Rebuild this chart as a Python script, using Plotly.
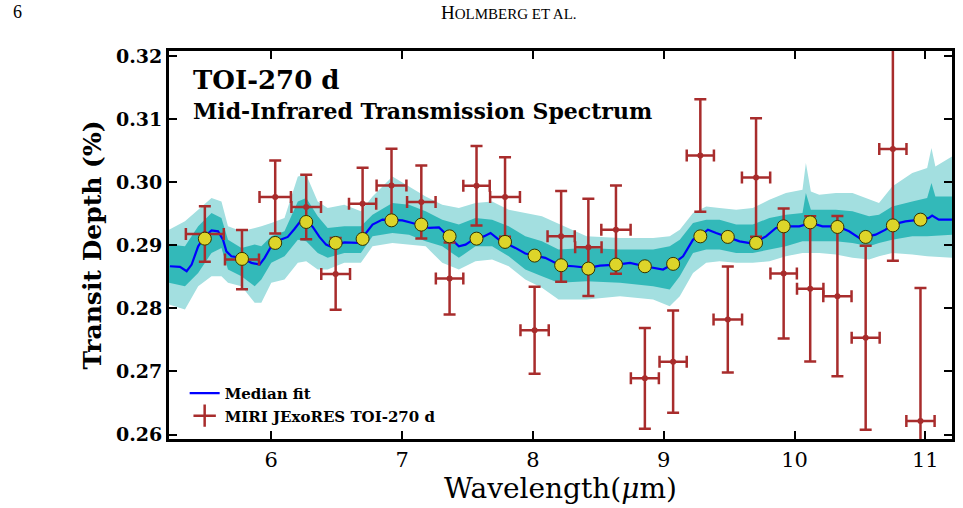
import plotly.graph_objects as go

# ---------------- data ----------------
# Binned MIRI JExoRES spectrum
obs_wl = [5.492, 5.776, 6.030, 6.267, 6.492, 6.698, 6.919, 7.147, 7.363, 7.569, 7.787, 8.013, 8.216,
          8.424, 8.635, 8.856, 9.072, 9.280, 9.490, 9.706, 9.917, 10.120, 10.328, 10.544, 10.752, 10.963]
obs_wl_err = [0.145, 0.130, 0.120, 0.113, 0.110, 0.104, 0.114, 0.109, 0.105, 0.101, 0.114, 0.108, 0.104,
              0.101, 0.112, 0.107, 0.104, 0.104, 0.109, 0.108, 0.101, 0.101, 0.108, 0.107, 0.104, 0.108]
obs_depth = [0.2918, 0.28774, 0.29766, 0.29608, 0.28547, 0.2966, 0.29949, 0.29687, 0.28473, 0.29945,
             0.29766, 0.27655, 0.29142, 0.28968, 0.29248, 0.26891, 0.27155, 0.30424, 0.27824, 0.30076,
             0.28552, 0.2831, 0.28193, 0.27535, 0.30525, 0.26215]
obs_depth_err = [0.0044, 0.0047, 0.0058, 0.0051, 0.0057, 0.0057, 0.0058, 0.0058, 0.0057, 0.0063, 0.0063,
                 0.0069, 0.0072, 0.0077, 0.0070, 0.0080, 0.0081, 0.0089, 0.0084, 0.0094, 0.0103, 0.0115,
                 0.0127, 0.0146, 0.0177, 0.0211]

# Binned model (yellow circles)
binned_model = [0.29106, 0.28785, 0.29038, 0.2937, 0.29038, 0.29101, 0.29396, 0.29328, 0.29142, 0.29106,
                0.29054, 0.28837, 0.28684, 0.28631, 0.28695, 0.28668, 0.28706, 0.29142, 0.29133, 0.29038,
                0.29301, 0.29364, 0.29291, 0.29133, 0.29316, 0.29407]

# Median fit
med_wl = [5.225, 5.302, 5.353, 5.391, 5.441, 5.492, 5.543, 5.593, 5.631, 5.657, 5.695, 5.772, 5.848, 5.911,
          5.949, 6.0, 6.05, 6.126, 6.177, 6.228, 6.267, 6.317, 6.368, 6.419, 6.457, 6.558, 6.66, 6.711,
          6.724, 6.774, 6.85, 6.914, 7.002, 7.078, 7.142, 7.206, 7.282, 7.358, 7.434, 7.485, 7.561, 7.625,
          7.676, 7.739, 7.782, 7.866, 7.942, 8.005, 8.094, 8.196, 8.234, 8.31, 8.424, 8.513, 8.64, 8.742,
          8.856, 8.995, 9.072, 9.148, 9.224, 9.275, 9.338, 9.401, 9.49, 9.58, 9.681, 9.782, 9.858, 9.922,
          10.037, 10.125, 10.214, 10.328, 10.417, 10.494, 10.544, 10.62, 10.696, 10.747, 10.848, 10.963,
          11.027, 11.052, 11.103, 11.204]
med_depth = [0.28668, 0.28658, 0.28589, 0.28695, 0.28984, 0.29142, 0.29237, 0.29222, 0.2909, 0.28905,
             0.28826, 0.28801, 0.28722, 0.28695, 0.28801, 0.28984, 0.29074, 0.29133, 0.29259, 0.29396,
             0.29396, 0.29291, 0.29133, 0.29011, 0.28975, 0.29047, 0.29038, 0.29117, 0.29196, 0.29328,
             0.29407, 0.29407, 0.29396, 0.29354, 0.29316, 0.29275, 0.29285, 0.29142, 0.28984, 0.29011,
             0.29117, 0.29142, 0.29196, 0.2909, 0.29047, 0.28959, 0.28869, 0.28837, 0.28801, 0.28695,
             0.28679, 0.28668, 0.28642, 0.28679, 0.28695, 0.28722, 0.28668, 0.28616, 0.28706, 0.28826,
             0.2909, 0.29142, 0.29248, 0.29196, 0.29133, 0.29063, 0.29027, 0.29142, 0.29275, 0.29301,
             0.29301, 0.29354, 0.29301, 0.29301, 0.29222, 0.29117, 0.29133, 0.29169, 0.29248, 0.29328,
             0.2938, 0.29407, 0.29434, 0.2947, 0.29407, 0.29407]

# Credible-interval bands
band_wl = [5.218, 5.340, 5.441, 5.543, 5.619, 5.669, 5.772, 5.873, 5.924, 6.0, 6.101, 6.203, 6.267, 6.355,
           6.431, 6.558, 6.685, 6.774, 6.926, 7.053, 7.18, 7.307, 7.434, 7.561, 7.688, 7.815, 7.942, 8.069,
           8.196, 8.411, 8.666, 8.919, 9.046, 9.123, 9.224, 9.325, 9.427, 9.554, 9.681, 9.808, 9.934,
           10.061, 10.087, 10.125, 10.189, 10.316, 10.443, 10.57, 10.646, 10.747, 10.9, 11.014, 11.047,
           11.077, 11.204]
sig1_hi = [0.29011, 0.28984, 0.29301, 0.29513, 0.29434, 0.2909, 0.28959, 0.29011, 0.28984, 0.29142,
           0.29222, 0.29696, 0.2975, 0.29459, 0.29275, 0.29301, 0.29301, 0.29486, 0.29671, 0.29644,
           0.29538, 0.29407, 0.29328, 0.29434, 0.29407, 0.29301, 0.29142, 0.29063, 0.28932, 0.28959,
           0.28932, 0.28932, 0.28984, 0.2909, 0.29354, 0.29407, 0.29407, 0.29328, 0.29328, 0.29434,
           0.29486, 0.29513, 0.29829, 0.29565, 0.29565, 0.29565, 0.29538, 0.29459, 0.29486, 0.29617,
           0.29696, 0.2975, 0.29987, 0.29775, 0.29775]
sig1_lo = [0.28405, 0.28351, 0.28563, 0.2888, 0.28959, 0.28616, 0.2851, 0.28351, 0.28457, 0.28722,
           0.28826, 0.2909, 0.29063, 0.2888, 0.28801, 0.2888, 0.2888, 0.29142, 0.29196, 0.29169,
           0.29063, 0.28984, 0.28801, 0.28984, 0.28984, 0.28826, 0.28616, 0.2851, 0.28405, 0.2843,
           0.28405, 0.28351, 0.28299, 0.2851, 0.2888, 0.28932, 0.28932, 0.2888, 0.2888, 0.28932,
           0.28984, 0.29063, 0.29063, 0.29063, 0.29063, 0.29063, 0.29038, 0.28984, 0.29038, 0.2909,
           0.29142, 0.29142, 0.29146, 0.29153, 0.29169]
sig2_hi = [0.29248, 0.2938, 0.29565, 0.2975, 0.29696, 0.29301, 0.29222, 0.29275, 0.29301, 0.29354,
           0.29434, 0.30092, 0.30119, 0.29696, 0.29592, 0.29644, 0.29538, 0.29775, 0.30092, 0.29934,
           0.29775, 0.29644, 0.29592, 0.29671, 0.29696, 0.29565, 0.29513, 0.29459, 0.29340, 0.29142,
           0.29117, 0.29117, 0.29142, 0.29248, 0.29513, 0.29617, 0.29592, 0.29565, 0.29592, 0.29723,
           0.29829, 0.29881, 0.30304, 0.29854, 0.29802, 0.29829, 0.29829, 0.29723, 0.29671, 0.29934,
           0.30146, 0.30225, 0.30541, 0.3025, 0.30408]
sig2_lo = [0.28062, 0.27983, 0.28351, 0.2851, 0.2851, 0.28405, 0.28351, 0.28089, 0.28089, 0.28405,
           0.28457, 0.28722, 0.28747, 0.28616, 0.28616, 0.28722, 0.28722, 0.28984, 0.29038, 0.29011,
           0.28984, 0.28722, 0.28616, 0.28747, 0.28774, 0.28668, 0.28457, 0.28326, 0.28141, 0.28141,
           0.28193, 0.28141, 0.28035, 0.28193, 0.28563, 0.28722, 0.28747, 0.28722, 0.28722, 0.28747,
           0.28826, 0.2888, 0.2888, 0.2888, 0.2888, 0.28853, 0.28801, 0.28774, 0.28826, 0.2888,
           0.28853, 0.28826, 0.28821, 0.2881, 0.28801]

x_ticks = [6, 7, 8, 9, 10, 11]
y_ticks = [0.26, 0.27, 0.28, 0.29, 0.30, 0.31, 0.32]
y_tick_text = ["0.26", "0.27", "0.28", "0.29", "0.30", "0.31", "0.32"]

# ---------------- figure ----------------
LIGHT = "#a3dfe0"
DARK = "#33b9b9"
RED = "#a82c2c"
YELLOW = "#ddd52a"
SERIF = "DejaVu Serif"

fig = go.Figure()

fig.add_trace(go.Scatter(x=band_wl + band_wl[::-1], y=sig2_hi + sig2_lo[::-1], fill="toself",
                         fillcolor=LIGHT, line=dict(width=0), mode="lines", showlegend=False,
                         hoverinfo="skip"))
fig.add_trace(go.Scatter(x=band_wl + band_wl[::-1], y=sig1_hi + sig1_lo[::-1], fill="toself",
                         fillcolor=DARK, line=dict(width=0), mode="lines", showlegend=False,
                         hoverinfo="skip"))
fig.add_trace(go.Scatter(x=med_wl, y=med_depth, mode="lines", name="<b>Median fit</b>",
                         line=dict(color="#0000ff", width=2.2)))
fig.add_trace(go.Scatter(x=obs_wl, y=obs_depth, mode="markers", showlegend=False,
                         marker=dict(color=RED, size=6),
                         error_x=dict(type="data", array=obs_wl_err, color=RED, thickness=2.5, width=6),
                         error_y=dict(type="data", array=obs_depth_err, color=RED, thickness=2.5, width=6)))
# legend entry for the data (error-bar cross symbol)
fig.add_trace(go.Scatter(x=[None], y=[None], mode="markers", name="<b>MIRI JExoRES TOI-270 d</b>",
                         marker=dict(symbol="cross-thin", size=16, color=RED,
                                     line=dict(color=RED, width=2.5))))
fig.add_trace(go.Scatter(x=obs_wl, y=binned_model, mode="markers", showlegend=False,
                         marker=dict(color=YELLOW, size=13, line=dict(color="#333300", width=1))))

axis_common = dict(showline=True, linecolor="black", linewidth=3, mirror="ticks", ticks="inside",
                   ticklen=8, tickwidth=2, tickcolor="black", showgrid=False, zeroline=False)

fig.update_layout(
    width=963, height=508,
    margin=dict(l=169, r=8, t=51, b=69),
    paper_bgcolor="white", plot_bgcolor="white",
    font=dict(family=SERIF, color="black"),
    xaxis=dict(range=[5.218, 11.204], tickvals=x_ticks,
               tickfont=dict(family=SERIF, size=21),
               title=dict(text="Wavelength(<i>μ</i>m)", font=dict(family=SERIF, size=28), standoff=6),
               **axis_common),
    yaxis=dict(range=[0.2593, 0.3208], tickvals=y_ticks, ticktext=["<b>%s</b>" % t for t in y_tick_text],
               tickfont=dict(family=SERIF, size=19),
               title=dict(text="<b>Transit Depth (%)</b>", font=dict(family=SERIF, size=25), standoff=8),
               **axis_common),
    legend=dict(x=0.02, y=0.16, xanchor="left", yanchor="top", bgcolor="rgba(0,0,0,0)",
                font=dict(family=SERIF, size=15), tracegroupgap=0, itemwidth=30),
    showlegend=True,
)

fig.add_annotation(xref="paper", yref="paper", x=0.028, y=0.97, xanchor="left", yanchor="top",
                   text="<b>TOI-270 d</b>", showarrow=False, font=dict(family=SERIF, size=26))
fig.add_annotation(xref="paper", yref="paper", x=0.028, y=0.885, xanchor="left", yanchor="top",
                   text="<b>Mid-Infrared Transmission Spectrum</b>", showarrow=False,
                   font=dict(family=SERIF, size=22))

# page header (outside the plotting area)
fig.add_annotation(xref="paper", yref="paper", x=-0.202, y=1.1, xanchor="left", yanchor="middle",
                   text="6", showarrow=False, font=dict(family="Liberation Serif", size=18))
fig.add_annotation(xref="paper", yref="paper", x=0.434, y=1.1, xanchor="center", yanchor="middle",
                   text="H<span style='font-size:15px'>OLMBERG ET AL.</span>", showarrow=False,
                   font=dict(family="Liberation Serif", size=19))

fig.write_html("out.html")
